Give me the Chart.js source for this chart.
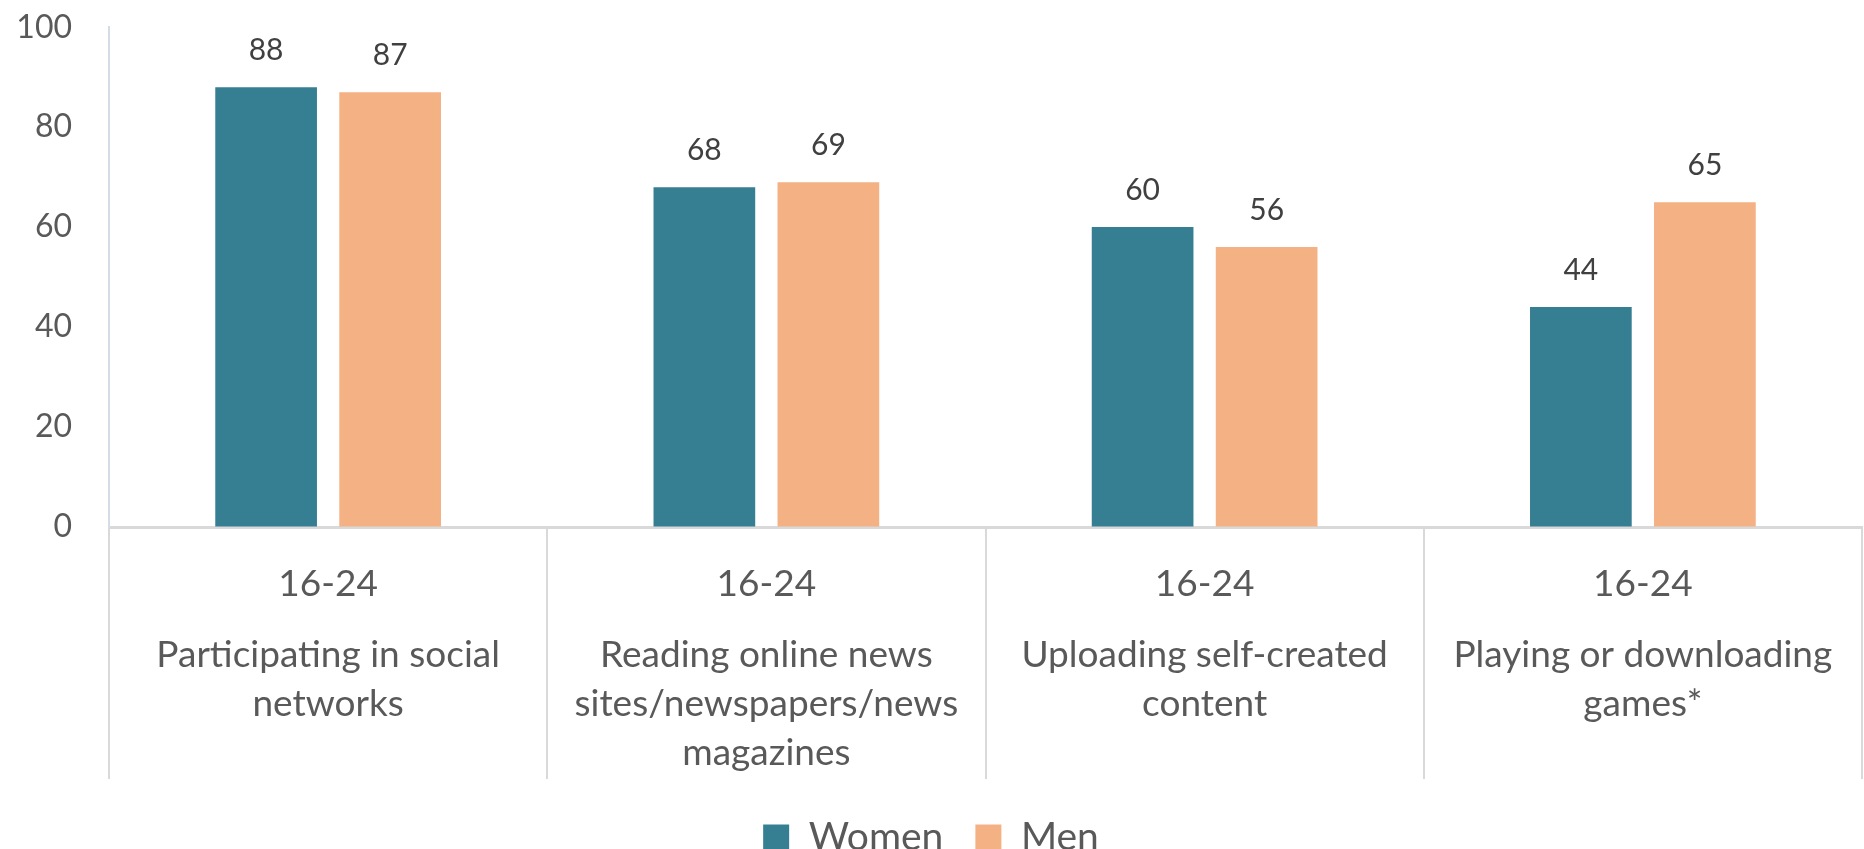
<!DOCTYPE html>
<html>
<head>
<meta charset="utf-8">
<script src="https://cdn.jsdelivr.net/npm/chart.js@4.4.1/dist/chart.umd.min.js"></script>
<style>
  html, body { margin: 0; padding: 0; background: #ffffff; }
  #wrap { width: 1864px; height: 849px; }
</style>
</head>
<body>
<div id="wrap"><canvas id="usageChart"></canvas></div>
<script>
// values
const ageGroups = ["16-24", "16-24", "16-24", "16-24"];
const activities = [
    ["Participating in social", "networks"],
    ["Reading online news", "sites/newspapers/news", "magazines"],
    ["Uploading self-created", "content"],
    ["Playing or downloading", "games*"]
];
const women = [88, 68, 60, 44];
const men = [87, 69, 56, 65];
const yTicks = [0, 20, 40, 60, 80, 100];

const textColor = "#595959";
const fontFamily = "Lato, 'Open Sans', sans-serif";

// values above bars (no datalabels plugin available offline)
const barValues = {
    id: "barValues",
    afterDatasetsDraw(chart) {
        const ctx = chart.ctx;
        ctx.save();
        ctx.font = "30px " + fontFamily;
        ctx.fillStyle = "#404040";
        ctx.textAlign = "center";
        ctx.textBaseline = "middle";
        chart.data.datasets.forEach((ds, i) => {
            chart.getDatasetMeta(i).data.forEach((bar, j) => {
                ctx.fillText(ds.data[j], bar.x, bar.y - 37);
            });
        });
        ctx.restore();
    }
};

const ctx = document.getElementById("usageChart").getContext("2d");
const usageChart = new Chart(ctx, {
    type: "bar",
    data: {
        labels: ageGroups,
        datasets: [
            {
                label: "Women",
                data: women,
                backgroundColor: "#367f93",
                categoryPercentage: 0.566,
                barPercentage: 0.82
            },
            {
                label: "Men",
                data: men,
                backgroundColor: "#f4b183",
                categoryPercentage: 0.566,
                barPercentage: 0.82
            }
        ]
    },
    options: {
        responsive: true,
        maintainAspectRatio: false,
        animation: false,
        layout: {
            padding: { top: 27, right: 2, left: 0, bottom: 0 }
        },
        plugins: {
            legend: {
                position: "bottom",
                maxHeight: 63,
                labels: {
                    boxWidth: 26,
                    boxHeight: 26,
                    padding: 32,
                    color: textColor,
                    font: { family: fontFamily, size: 39 }
                }
            },
            tooltip: { enabled: false }
        },
        scales: {
            x: {
                offset: true,
                grid: {
                    offset: true,
                    drawOnChartArea: false,
                    drawTicks: true,
                    tickLength: 252,
                    color: "#d9d9d9",
                    lineWidth: 2
                },
                border: { display: true, color: "#d9d9d9", width: 3 },
                ticks: {
                    color: textColor,
                    padding: -219,
                    autoSkip: false,
                    maxRotation: 0,
                    font: { family: fontFamily, size: 37, lineHeight: 1.3 }
                },
                afterFit: (scale) => { scale.height = 74; }
            },
            x2: {
                type: "category",
                position: "bottom",
                labels: activities,
                offset: true,
                weight: 1,
                grid: { display: false, drawTicks: false },
                border: { display: false },
                ticks: {
                    color: textColor,
                    padding: 30,
                    autoSkip: false,
                    maxRotation: 0,
                    font: { family: fontFamily, size: 37, lineHeight: 1.324 }
                },
                afterFit: (scale) => { scale.height = 185; }
            },
            y: {
                min: 0,
                max: 100,
                afterBuildTicks: (scale) => { scale.ticks = yTicks.map(v => ({ value: v })); },
                grid: {
                    display: true,
                    drawOnChartArea: false,
                    drawTicks: true,
                    tickLength: 29,
                    tickColor: "transparent"
                },
                border: { display: true, color: "#d6dce5", width: 2 },
                ticks: {
                    color: textColor,
                    padding: 8,
                    font: { family: fontFamily, size: 32 }
                },
                afterFit: (scale) => { scale.width = 109; }
            }
        }
    },
    plugins: [barValues]
});
</script>
</body>
</html>
